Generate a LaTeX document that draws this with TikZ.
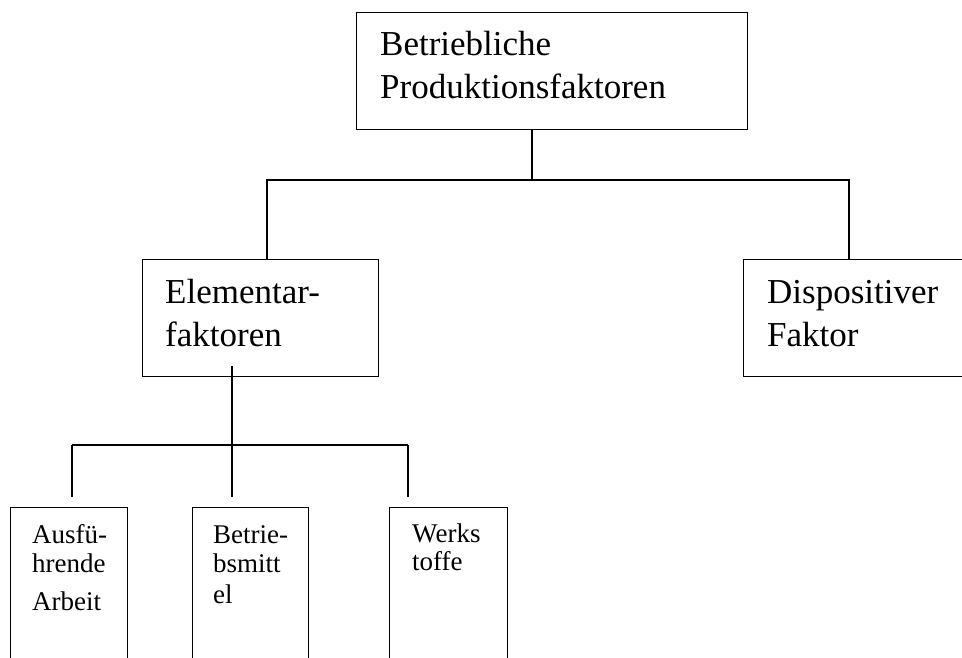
\documentclass[tikz,border=0pt]{standalone}
\usepackage{fontspec}
\setmainfont{Liberation Serif}
\usetikzlibrary{calc}
\begin{document}
\begin{tikzpicture}[x=1pt,y=-1pt,
  box/.style={draw,line width=1.3pt,inner sep=0pt,anchor=north west},
  conn/.style={line width=1.3pt},
  big/.style={font=\fontsize{35}{42}\selectfont,inner sep=0pt,anchor=base west},
  small/.style={font=\fontsize{27}{32}\selectfont,inner sep=0pt,anchor=base west}]
\useasboundingbox (0,0) rectangle (962,657);
\clip (0,0) rectangle (962,657);
% boxes
\node[box,minimum width=391pt,minimum height=117pt] (top) at (356,12) {};
\node[box,minimum width=236pt,minimum height=117pt] (el) at (142,259) {};
\node[box,minimum width=236pt,minimum height=117pt] (disp) at (743,259) {};
\node[box,minimum width=117pt,minimum height=200pt] (aa) at (10,507) {};
\node[box,minimum width=116pt,minimum height=200pt] (bb) at (192,507) {};
\node[box,minimum width=118pt,minimum height=200pt] (ww) at (389,507) {};
% texts
\node[big] (t1) at (380,55) {Betriebliche};
\node[big] (t2) at (380,98) {Produktionsfaktoren};
\node[big] (e1) at (165,303) {Elementar-};
\node[big] (e2) at (165,346) {faktoren};
\node[big] (d1) at (767,303) {Dispositiver};
\node[big] (d2) at (767,346) {Faktor};
\node[small] (a1) at (32,543) {Ausfü-};
\node[small] (a2) at (32,572) {hrende};
\node[small] (a3) at (32,610) {Arbeit};
\node[small] (b1) at (213,543) {Betrie-};
\node[small] (b2) at (213,572) {bsmitt};
\node[small] (b3) at (213,603) {el};
\node[small] (w1) at (412,542) {Werks};
\node[small] (w2) at (412,570) {toffe};
% junctions
\coordinate (tj) at (532,180);
\coordinate (lj) at (267,180);
\coordinate (rj) at (849,180);
\coordinate (ej) at (232,445);
\coordinate (aj) at (72,445);
\coordinate (wj) at (408,445);
% connectors
\draw[conn] (top.south -| tj) -- (tj);
\draw[conn] (el.north -| lj) -- (lj) -- (rj) -- (disp.north -| rj);
\draw[conn] ($(el.south -| ej)+(0,-11)$) -- (ej);
\draw[conn] (aj) -- (wj);
\draw[conn] (aj) -- ($(aa.north -| aj)+(0,-10)$);
\draw[conn] (ej) -- ($(bb.north -| ej)+(0,-10)$);
\draw[conn] (wj) -- ($(ww.north -| wj)+(0,-10)$);
\end{tikzpicture}
\end{document}
